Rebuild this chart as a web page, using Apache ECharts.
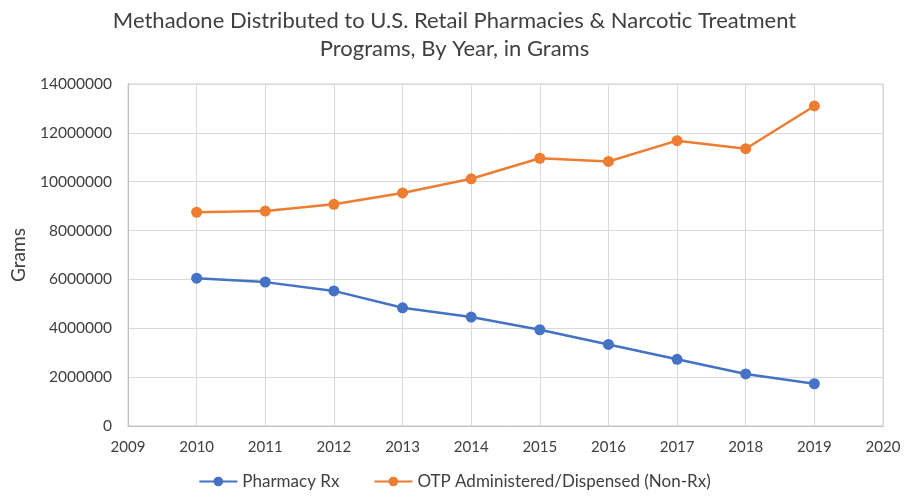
<!DOCTYPE html>
<html><head><meta charset="utf-8">
<script src="https://cdn.jsdelivr.net/npm/echarts@6/dist/echarts.min.js"></script>
<style>html,body{margin:0;padding:0;background:#fff}#c{width:909px;height:497px}</style>
</head><body><div id="c"></div>
<script>
const years = [2010, 2011, 2012, 2013, 2014, 2015, 2016, 2017, 2018, 2019];
const pharmacyRx = [6050000, 5890000, 5530000, 4840000, 4460000, 3940000, 3340000, 2730000, 2130000, 1730000];
const otpNonRx = [8750000, 8800000, 9075000, 9540000, 10120000, 10960000, 10830000, 11680000, 11350000, 13100000];
const seriesNames = ['Pharmacy Rx', 'OTP Administered/Dispensed (Non-Rx)'];
const titleText = 'Methadone Distributed to U.S. Retail Pharmacies & Narcotic Treatment\nPrograms, By Year, in Grams';
const yAxisName = 'Grams';

const font = 'Lato, "Open Sans", sans-serif';
const chart = echarts.init(document.getElementById('c'));
chart.setOption({
  animation: false,
  backgroundColor: '#fff',
  title: {
    text: titleText, left: 'center', top: 2,
    textStyle: { fontFamily: font, fontSize: 22, fontWeight: 'normal', color: '#404040', lineHeight: 28 }
  },
  grid: { left: 128, right: 26, top: 84, bottom: 71, show: true, borderColor: '#d0d0d0', borderWidth: 1 },
  legend: {
    bottom: 2, left: 'center', itemGap: 34, itemWidth: 38, itemHeight: 12,
    textStyle: { fontFamily: font, fontSize: 17, color: '#404040' },
    data: seriesNames
  },
  xAxis: {
    type: 'value', min: 2009, max: 2020, interval: 1,
    axisLine: { show: true, lineStyle: { color: '#bfbfbf' } },
    axisTick: { show: false },
    splitLine: { show: true, lineStyle: { color: '#d9d9d9', width: 1 } },
    axisLabel: { fontFamily: font, fontSize: 15, color: '#404040', margin: 14, formatter: v => String(v) }
  },
  yAxis: {
    type: 'value', min: 0, max: 14000000, interval: 2000000,
    name: yAxisName, nameLocation: 'middle', nameGap: 100, nameRotate: 90,
    nameTextStyle: { fontFamily: font, fontSize: 19, color: '#404040' },
    axisLine: { show: true, lineStyle: { color: '#bfbfbf' } },
    axisTick: { show: false },
    splitLine: { show: true, lineStyle: { color: '#d9d9d9', width: 1 } },
    axisLabel: { fontFamily: font, fontSize: 15.5, color: '#404040', margin: 16, formatter: v => String(v) }
  },
  series: [
    {
      name: seriesNames[0], type: 'line', data: years.map((y, i) => [y, pharmacyRx[i]]),
      color: '#4472C4', symbol: 'circle', symbolSize: 11,
      lineStyle: { width: 2.5, color: '#4472C4' }, itemStyle: { color: '#4472C4' }
    },
    {
      name: seriesNames[1], type: 'line', data: years.map((y, i) => [y, otpNonRx[i]]),
      color: '#ED7D31', symbol: 'circle', symbolSize: 11,
      lineStyle: { width: 2.5, color: '#ED7D31' }, itemStyle: { color: '#ED7D31' }
    }
  ]
});
</script></body></html>
